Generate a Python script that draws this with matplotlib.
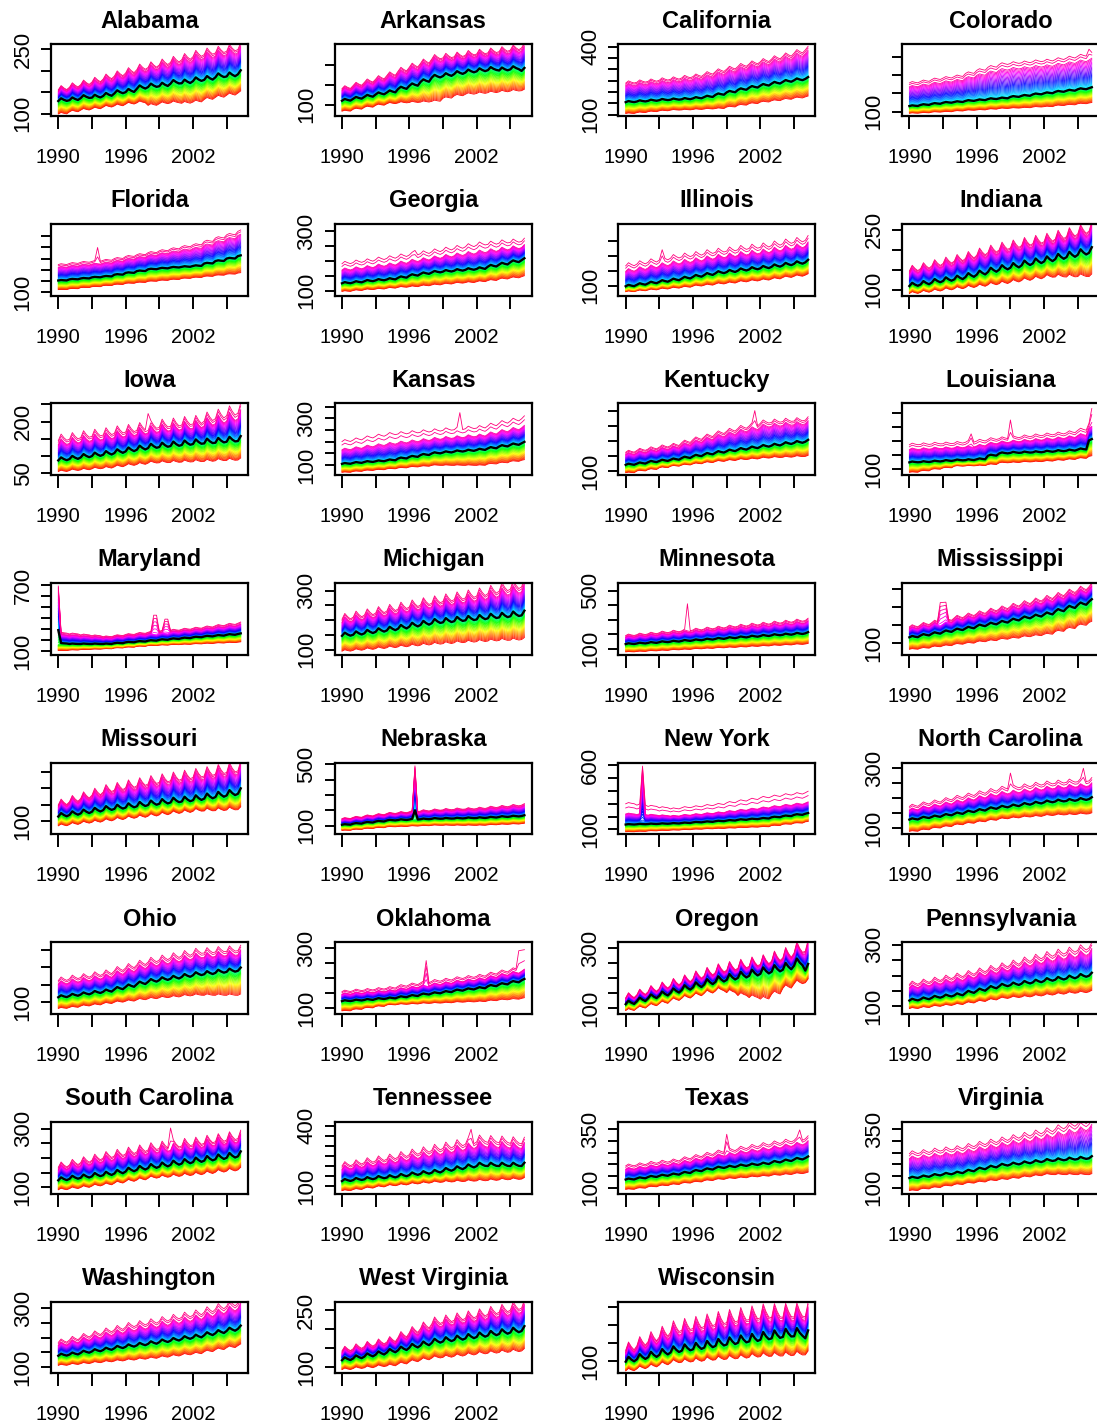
import colorsys
import numpy as np
import matplotlib
matplotlib.use("Agg")
import matplotlib.pyplot as plt

plt.rcParams["font.family"] = ["Liberation Sans", "DejaVu Sans"]

states = ["Alabama", "Arkansas", "California", "Colorado",
          "Florida", "Georgia", "Illinois", "Indiana",
          "Iowa", "Kansas", "Kentucky", "Louisiana",
          "Maryland", "Michigan", "Minnesota", "Mississippi",
          "Missouri", "Nebraska", "New York", "North Carolina",
          "Ohio", "Oklahoma", "Oregon", "Pennsylvania",
          "South Carolina", "Tennessee", "Texas", "Virginia",
          "Washington", "West Virginia", "Wisconsin"]

years = np.arange(1990, 2007)

# yearly level of the median curve, 1990..2006
med = [
    [132, 134, 139, 140, 144, 150, 153, 161, 165, 167, 173, 174, 179, 182, 188, 190, 195],
    [112, 117, 122, 128, 133, 142, 150, 160, 171, 175, 180, 184, 187, 190, 189, 192, 188],
    [157, 160, 163, 166, 168, 170, 174, 180, 190, 201, 212, 222, 231, 240, 248, 255, 261],
    [116, 119, 122, 125, 127, 130, 132, 135, 137, 141, 144, 148, 151, 155, 158, 162, 165],
    [153, 158, 162, 167, 171, 179, 187, 195, 203, 207, 211, 214, 218, 229, 240, 251, 262],
    [126, 129, 133, 136, 139, 145, 152, 158, 163, 166, 169, 172, 175, 183, 190, 198, 205],
    [100, 105, 110, 115, 120, 126, 132, 138, 144, 148, 153, 157, 161, 166, 171, 176, 181],
    [112, 116, 121, 125, 129, 135, 141, 148, 154, 159, 165, 170, 175, 181, 186, 192, 197],
    [91, 95, 100, 104, 108, 113, 118, 123, 128, 131, 134, 137, 140, 142, 144, 147, 149],
    [107, 111, 115, 118, 122, 130, 137, 145, 152, 156, 160, 163, 167, 174, 182, 189, 196],
    [122, 126, 131, 135, 139, 145, 151, 157, 163, 168, 173, 178, 183, 187, 192, 196, 200],
    [126, 127, 129, 131, 133, 134, 137, 150, 158, 160, 161, 162, 164, 166, 168, 172, 205],
    [170, 166, 166, 166, 166, 173, 181, 188, 196, 204, 212, 219, 227, 235, 242, 250, 257],
    [151, 155, 160, 165, 170, 176, 183, 189, 195, 198, 202, 205, 208, 212, 215, 219, 222],
    [135, 139, 143, 148, 152, 157, 161, 166, 171, 176, 181, 186, 191, 196, 200, 205, 210],
    [117, 122, 127, 132, 137, 142, 148, 153, 158, 164, 170, 175, 181, 190, 199, 208, 217],
    [118, 123, 128, 133, 138, 142, 146, 150, 154, 158, 162, 165, 169, 174, 179, 184, 189],
    [108, 115, 122, 129, 136, 139, 142, 144, 147, 148, 149, 151, 152, 155, 159, 162, 165],
    [139, 141, 143, 145, 147, 151, 156, 160, 165, 170, 176, 181, 186, 196, 205, 215, 224],
    [131, 136, 140, 145, 150, 156, 161, 167, 172, 176, 181, 185, 189, 192, 194, 197, 200],
    [116, 120, 124, 128, 132, 139, 146, 154, 161, 166, 170, 175, 180, 183, 187, 190, 193],
    [124, 126, 128, 131, 133, 137, 141, 146, 150, 154, 159, 163, 167, 174, 180, 187, 194],
    [117, 127, 137, 146, 156, 166, 175, 185, 194, 201, 208, 215, 222, 229, 236, 250, 233],
    [121, 125, 130, 134, 138, 146, 153, 161, 168, 172, 177, 181, 186, 190, 194, 199, 203],
    [128, 133, 137, 142, 146, 152, 159, 165, 171, 176, 182, 187, 192, 197, 202, 207, 212],
    [128, 133, 137, 142, 146, 152, 159, 165, 171, 180, 188, 197, 205, 205, 205, 205, 205],
    [136, 141, 147, 152, 157, 164, 172, 179, 186, 190, 195, 199, 203, 210, 216, 223, 229],
    [143, 148, 154, 159, 164, 172, 181, 189, 197, 202, 207, 212, 217, 220, 223, 226, 229],
    [141, 145, 151, 156, 161, 167, 172, 177, 182, 188, 193, 199, 204, 212, 219, 227, 234],
    [121, 126, 131, 136, 142, 148, 155, 161, 168, 172, 176, 180, 184, 188, 192, 196, 200],
    [104, 111, 117, 124, 131, 136, 140, 145, 150, 154, 159, 163, 168, 172, 176, 178, 172],
]

# yearly level of the lowest curve
lo = [
    [101, 106, 110, 113, 117, 120, 124, 127, 121, 125, 127, 126, 129, 135, 140, 145, 150],
    [85, 90, 95, 100, 104, 106, 107, 108, 110, 118, 124, 128, 130, 132, 134, 136, 137],
    [106, 110, 114, 118, 121, 122, 124, 126, 128, 135, 143, 150, 157, 163, 169, 175, 180],
    [96, 97, 99, 100, 102, 104, 105, 107, 109, 110, 111, 113, 114, 117, 119, 122, 124],
    [112, 116, 121, 125, 130, 135, 140, 144, 149, 153, 157, 162, 166, 171, 176, 181, 186],
    [98, 101, 104, 106, 109, 112, 114, 117, 120, 123, 126, 128, 131, 135, 140, 144, 148],
    [81, 84, 87, 90, 93, 96, 100, 103, 107, 110, 114, 117, 120, 124, 129, 133, 137],
    [92, 95, 98, 101, 104, 107, 110, 114, 117, 121, 125, 129, 133, 134, 134, 135, 135],
    [57, 60, 62, 65, 67, 71, 75, 78, 82, 83, 84, 85, 86, 87, 89, 90, 91],
    [70, 74, 78, 81, 85, 89, 93, 96, 100, 100, 100, 100, 100, 106, 111, 117, 122],
    [95, 101, 106, 112, 117, 121, 125, 129, 133, 136, 139, 141, 144, 146, 147, 149, 150],
    [90, 95, 101, 106, 112, 113, 114, 118, 124, 125, 127, 128, 130, 133, 136, 140, 147],
    [105, 110, 114, 118, 121, 129, 136, 144, 151, 155, 159, 162, 166, 170, 174, 178, 182],
    [97, 100, 103, 106, 109, 112, 115, 118, 121, 123, 126, 128, 130, 132, 134, 135, 137],
    [80, 83, 87, 90, 94, 97, 101, 104, 108, 111, 114, 118, 121, 125, 128, 132, 135],
    [83, 86, 90, 93, 97, 100, 104, 107, 111, 114, 118, 121, 125, 133, 141, 150, 158],
    [88, 92, 96, 99, 103, 107, 111, 114, 118, 122, 126, 129, 133, 134, 135, 137, 138],
    [71, 77, 83, 88, 94, 96, 99, 101, 104, 104, 104, 104, 104, 107, 110, 112, 115],
    [82, 85, 89, 92, 95, 98, 102, 105, 108, 111, 115, 118, 121, 131, 141, 150, 160],
    [91, 96, 102, 107, 113, 118, 123, 128, 133, 136, 139, 141, 144, 146, 147, 149, 150],
    [83, 86, 90, 93, 97, 101, 104, 108, 111, 114, 116, 119, 121, 121, 121, 121, 121],
    [91, 96, 101, 106, 111, 113, 114, 116, 117, 118, 120, 121, 122, 125, 128, 130, 133],
    [94, 102, 110, 118, 128, 136, 144, 153, 161, 155, 145, 138, 133, 150, 170, 185, 189],
    [94, 97, 101, 104, 107, 112, 117, 122, 127, 130, 132, 135, 138, 141, 144, 146, 149],
    [94, 98, 102, 107, 111, 117, 123, 128, 134, 137, 140, 143, 146, 150, 155, 159, 163],
    [78, 84, 91, 97, 103, 107, 112, 116, 120, 122, 124, 126, 128, 130, 133, 135, 137],
    [93, 98, 104, 109, 114, 120, 125, 131, 136, 140, 143, 147, 150, 154, 157, 161, 164],
    [88, 95, 101, 108, 114, 120, 125, 131, 136, 141, 147, 152, 157, 157, 157, 157, 157],
    [107, 110, 113, 116, 119, 122, 125, 128, 131, 135, 139, 143, 147, 154, 161, 168, 175],
    [95, 98, 100, 103, 105, 110, 116, 121, 126, 128, 131, 134, 137, 139, 141, 143, 145],
    [76, 82, 87, 93, 99, 101, 103, 106, 108, 110, 112, 115, 117, 118, 119, 121, 122],
]

# yearly level of the highest curve
hi = [
    [158, 164, 170, 176, 183, 190, 197, 205, 210, 216, 222, 228, 235, 240, 244, 248, 252],
    [142, 150, 158, 166, 175, 186, 196, 206, 217, 220, 223, 227, 230, 233, 236, 240, 245],
    [239, 243, 247, 252, 256, 262, 268, 278, 290, 301, 313, 324, 334, 346, 358, 372, 386],
    [174, 178, 183, 187, 191, 199, 207, 215, 222, 225, 227, 230, 232, 236, 240, 245, 250],
    [218, 223, 228, 232, 237, 245, 254, 262, 271, 279, 287, 296, 304, 319, 334, 348, 363],
    [176, 180, 184, 189, 193, 199, 205, 210, 216, 221, 226, 231, 236, 240, 245, 249, 253],
    [156, 162, 168, 175, 181, 186, 191, 197, 202, 206, 211, 215, 219, 225, 231, 236, 242],
    [150, 156, 163, 169, 175, 182, 190, 197, 204, 209, 215, 220, 225, 232, 238, 245, 252],
    [144, 148, 153, 157, 161, 166, 170, 175, 180, 184, 187, 191, 194, 202, 209, 217, 224],
    [174, 180, 187, 193, 199, 204, 209, 214, 219, 223, 226, 230, 233, 242, 252, 261, 270],
    [161, 167, 172, 178, 183, 193, 203, 212, 222, 230, 239, 247, 256, 259, 262, 264, 267],
    [177, 178, 180, 181, 183, 186, 190, 197, 201, 204, 207, 210, 213, 216, 220, 228, 255],
    [257, 250, 242, 235, 227, 237, 247, 257, 267, 276, 285, 294, 303, 314, 326, 337, 348],
    [205, 212, 219, 226, 233, 240, 247, 254, 260, 266, 272, 278, 284, 292, 300, 307, 314],
    [190, 196, 202, 209, 215, 222, 228, 235, 241, 248, 254, 261, 267, 274, 280, 287, 293],
    [144, 150, 156, 162, 169, 175, 181, 188, 194, 201, 208, 215, 222, 230, 239, 247, 256],
    [154, 164, 174, 184, 194, 200, 207, 213, 219, 224, 229, 234, 239, 244, 250, 255, 260],
    [147, 155, 164, 172, 180, 185, 191, 196, 201, 204, 207, 209, 212, 218, 223, 229, 234],
    [230, 225, 220, 215, 211, 218, 224, 231, 238, 248, 258, 267, 277, 287, 297, 306, 316],
    [167, 174, 180, 187, 194, 201, 208, 215, 222, 226, 230, 235, 239, 242, 245, 247, 250],
    [159, 164, 168, 173, 178, 187, 195, 204, 212, 218, 224, 230, 236, 238, 241, 243, 245],
    [150, 153, 155, 158, 161, 167, 172, 178, 183, 187, 192, 196, 200, 207, 214, 221, 228],
    [139, 150, 161, 172, 183, 194, 206, 217, 228, 235, 242, 249, 256, 267, 278, 295, 300],
    [168, 174, 180, 186, 192, 200, 208, 216, 224, 232, 241, 249, 257, 264, 270, 277, 284],
    [171, 179, 187, 195, 203, 210, 217, 224, 231, 236, 240, 245, 249, 255, 260, 266, 271],
    [197, 205, 214, 222, 230, 241, 252, 262, 273, 283, 294, 304, 315, 313, 311, 308, 306],
    [186, 191, 197, 202, 207, 216, 225, 234, 243, 250, 258, 265, 272, 279, 286, 293, 300],
    [236, 241, 247, 252, 257, 266, 275, 284, 293, 302, 311, 320, 329, 340, 350, 361, 372],
    [182, 190, 199, 207, 216, 224, 233, 239, 245, 252, 259, 266, 273, 283, 293, 303, 313],
    [145, 151, 157, 163, 169, 181, 193, 204, 216, 221, 226, 231, 236, 242, 247, 253, 258],
    [136, 149, 161, 174, 187, 193, 198, 204, 210, 215, 220, 224, 229, 230, 231, 232, 233],
]

# size of the within-year swing, as a share of the level
season_amp = [0.03, 0.025, 0.02, 0.01, 0.008, 0.02, 0.03, 0.045,
              0.06, 0.02, 0.02, 0.015, 0.015, 0.045, 0.025, 0.02,
              0.055, 0.02, 0.015, 0.02, 0.03, 0.015, 0.06, 0.03,
              0.05, 0.05, 0.02, 0.025, 0.03, 0.04, 0.08]
quarter_shape = [-0.6, 1.0, 0.1, -0.5]

# extra height of the two topmost curves, as a share of hi - med
top_extra = [0.05, 0.05, 0.05, 0.1, 0.1, 0.35, 0.25, 0.05,
             0.15, 0.45, 0.1, 0.25, 0.1, 0.1, 0.1, 0.1,
             0.05, 0.05, 0.8, 0.25, 0.15, 0.25, 0.05, 0.15,
             0.1, 0.15, 0.2, 0.15, 0.15, 0.1, 0.1]

# short-lived jumps: (from, to, peak, lowest rank affected in -1..1)
spikes = {
    "Florida": [(1993.5, 1993.5, 318, 0.93)],
    "Georgia": [(1996.5, 1996.5, 239, 0.93)],
    "Illinois": [(1993.25, 1993.25, 227, 0.93)],
    "Iowa": [(1998.0, 1998.0, 245, 0.95)],
    "Kansas": [(2000.5, 2000.5, 359, 0.95)],
    "Kentucky": [(2001.5, 2001.5, 316, 0.93)],
    "Louisiana": [(1995.5, 1995.5, 232, 0.9), (1999.0, 1999.0, 296, 0.93),
                  (2006.25, 2006.25, 326, 0.9)],
    "Maryland": [(1990.0, 1990.0, 697, -0.3), (1998.5, 1998.75, 440, 0.8),
                 (1999.5, 1999.75, 400, 0.8)],
    "Minnesota": [(1995.5, 1995.5, 540, 0.96)],
    "Mississippi": [(1992.75, 1993.25, 217, 0.8)],
    "Nebraska": [(1996.5, 1996.5, 493, -0.2)],
    "New York": [(1991.5, 1991.5, 600, 0.3)],
    "North Carolina": [(1999.0, 1999.0, 300, 0.93), (2005.5, 2005.5, 313, 0.93)],
    "Oklahoma": [(1997.5, 1997.5, 267, 0.85), (2005.75, 2006.25, 311, 0.93)],
    "South Carolina": [(2000.0, 2000.0, 323, 0.93)],
    "Tennessee": [(2001.5, 2001.5, 400, 0.93)],
    "Texas": [(1999.0, 1999.0, 343, 0.9), (2005.5, 2005.5, 360, 0.93)],
    "Colorado": [(2006.0, 2006.0, 275, 0.93)],
}

ylims = [(95, 261), (72, 252), (94, 411), (88, 284),
         (85, 404), (83, 325), (67, 306), (85, 264),
         (45, 252), (57, 364), (86, 325), (79, 335),
         (66, 718), (83, 325), (59, 553), (67, 266),
         (60, 277), (44, 509), (61, 619), (80, 319),
         (66, 271), (80, 319), (80, 319), (75, 308),
         (79, 323), (62, 418), (74, 382), (74, 382),
         (79, 323), (84, 273), (67, 266)]

s50 = lambda a, b: list(range(a, b + 1, 50))
s100 = lambda a, b: list(range(a, b + 1, 100))
yticks = [s50(100, 250), s50(100, 200), s50(100, 400), s50(100, 250),
          s50(100, 350), s50(100, 300), s50(100, 250), s50(100, 250),
          s50(50, 250), s50(100, 350), s50(100, 300), s50(100, 300),
          s100(100, 700), s50(100, 300), s100(100, 500), s50(100, 250),
          s50(100, 250), s100(100, 500), s100(100, 600), s50(100, 300),
          s50(100, 250), s50(100, 300), s50(100, 300), s50(100, 300),
          s50(100, 300), s50(100, 400), s50(100, 350), s50(100, 350),
          s50(100, 300), s50(100, 250), s50(100, 250)]
ylabeled = [[100, 250], [100], [100, 400], [100],
            [100], [100, 300], [100], [100, 250],
            [50, 200], [100, 300], [100], [100],
            [100, 700], [100, 300], [100, 500], [100],
            [100], [100, 500], [100, 600], [100, 300],
            [100], [100, 300], [100, 300], [100, 300],
            [100, 300], [100, 400], [100, 350], [100, 350],
            [100, 300], [100, 250], [100]]

xticks = [1990, 1993, 1996, 1999, 2002, 2005]
xlabels = ["1990", "", "1996", "", "2002", ""]

t = 1990 + np.arange(66) / 4
yidx = (t - 1990).astype(int)
season = np.array(quarter_shape)[np.arange(66) % 4]

n_curves = 60
rank = (np.arange(n_curves) + 0.5) / n_curves * 2 - 1
# red at the bottom running round to pink at the top
colors = [colorsys.hsv_to_rgb(0.92 * k / (n_curves - 1), 1, 1) for k in range(n_curves)]

W, H = 1097, 1428
fig = plt.figure(figsize=(W / 100, H / 100), dpi=100)

for i, name in enumerate(states):
    r, c = divmod(i, 4)
    left = 51 + 283.7 * c
    top = 44.3 + 179.6 * r
    ax = fig.add_axes([left / W, 1 - (top + 71.7) / H, 197 / W, 71.7 / H])

    m = np.array(med[i], float)[yidx]
    l = np.array(lo[i], float)[yidx]
    h = np.array(hi[i], float)[yidx]
    for k in range(n_curves):
        u = rank[k]
        frac = (abs(u) / rank[-1]) ** 1.25
        base = m + frac * (h - m) if u > 0 else m - frac * (m - l)
        if k >= n_curves - 2:
            base = base + top_extra[i] * (h - m) * (1.0 if k == n_curves - 1 else 0.6)
        y = base * (1 + season_amp[i] * (0.7 + 0.3 * (u + 1)) * season)
        for t0, t1, peak, u0 in spikes.get(name, []):
            w = np.clip((u - u0) / (1 - u0), 0, 1)
            sel = (t >= t0) & (t <= t1)
            y[sel] = y[sel] + w * (peak - y[sel])
        ax.plot(t, y, color=colors[k], lw=0.6)

    ym = m * (1 + season_amp[i] * season)
    for t0, t1, peak, u0 in spikes.get(name, []):
        w = np.clip((0 - u0) / (1 - u0), 0, 1)
        sel = (t >= t0) & (t <= t1)
        ym[sel] = ym[sel] + w * (peak - ym[sel])
    ax.plot(t, ym, color="black", lw=1.7)

    ax.set_xlim(1989.35, 2006.9)
    ax.set_ylim(*ylims[i])
    ax.set_xticks(xticks)
    ax.set_xticklabels(xlabels)
    ax.set_yticks(yticks[i])
    ax.set_yticklabels([str(v) if v in ylabeled[i] else "" for v in yticks[i]],
                       rotation=90, va="center")
    ax.tick_params(axis="x", direction="out", length=9, width=1.4, pad=14, labelsize=14.5)
    ax.tick_params(axis="y", direction="out", length=7.5, width=1.4, pad=5, labelsize=16)
    for sp in ax.spines.values():
        sp.set_linewidth(1.6)
    ax.set_title(name, fontsize=17, fontweight="bold", pad=12)

fig.savefig("out.png", dpi=100)
